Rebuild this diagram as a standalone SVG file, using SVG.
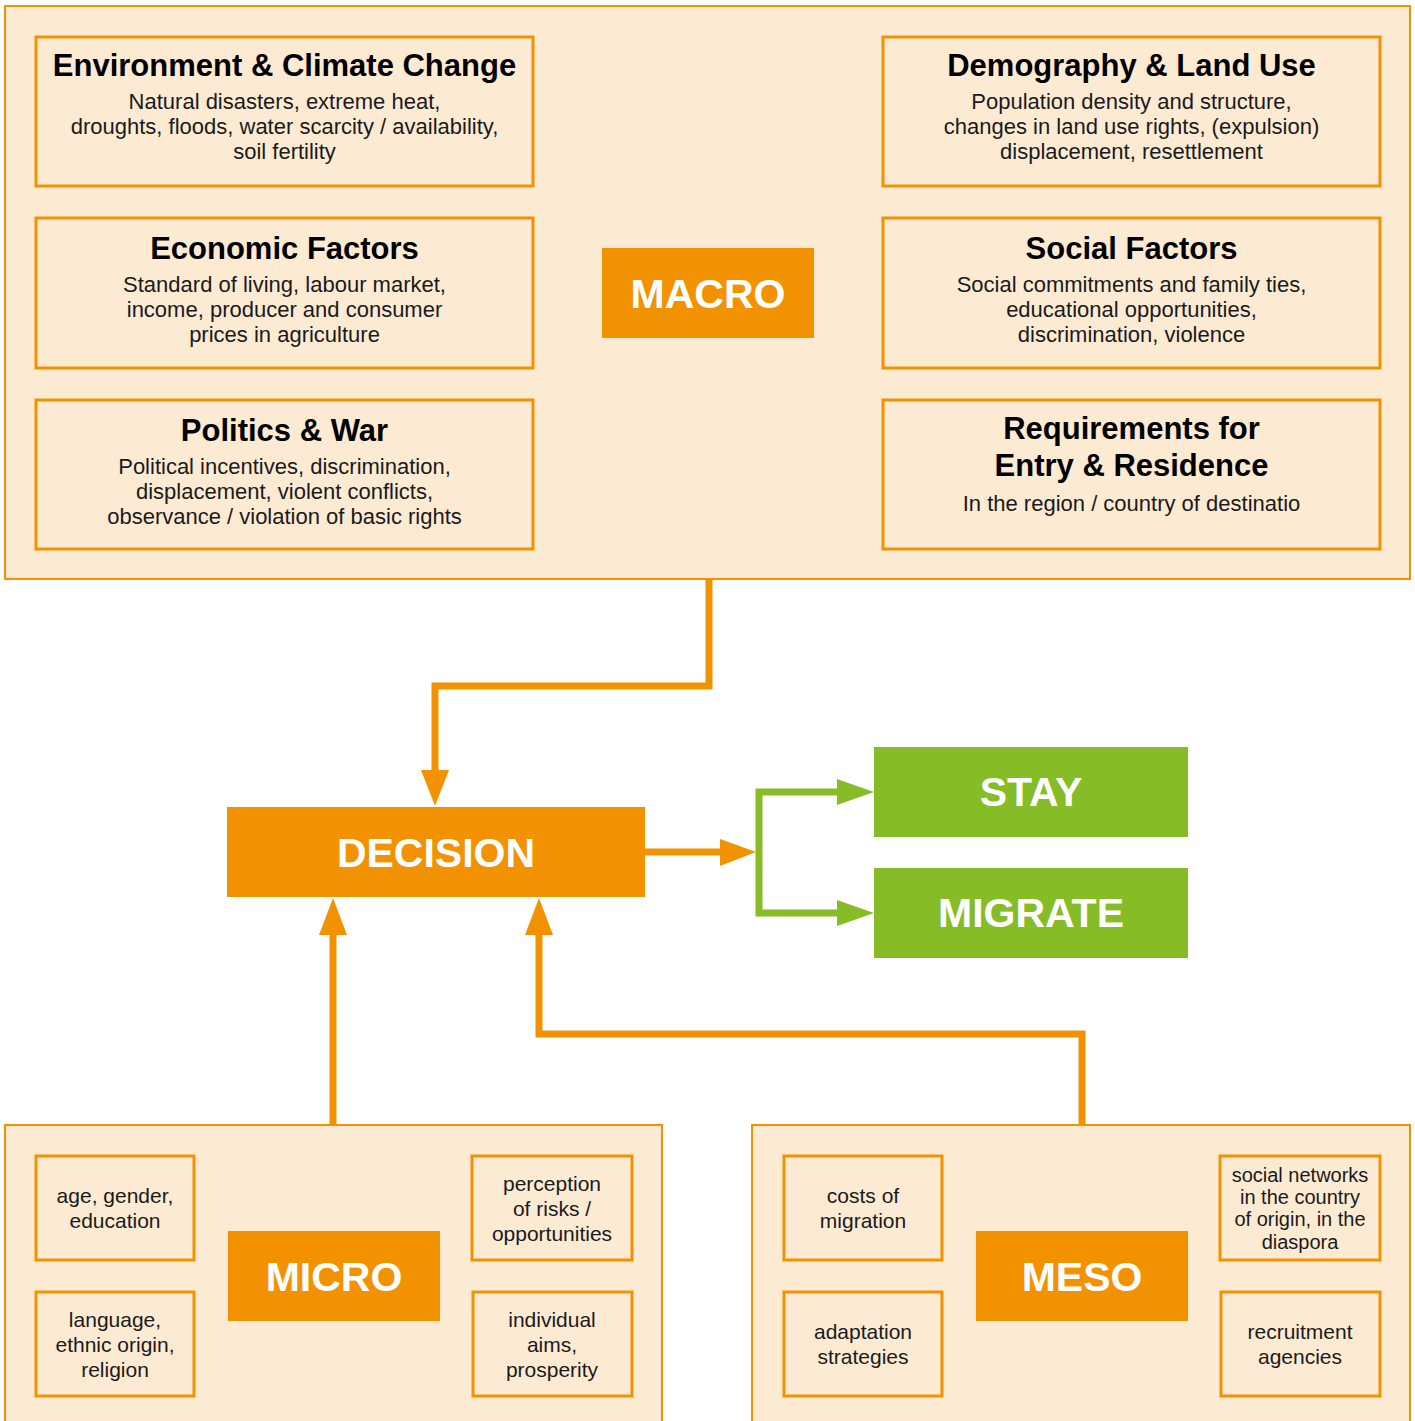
<svg xmlns="http://www.w3.org/2000/svg" width="1415" height="1421" viewBox="0 0 1415 1421">
<style>
.cont{fill:#FDEAD3;stroke:#F39200;stroke-width:2}
.box{fill:#FDEAD3;stroke:#F39200;stroke-width:3}
.key{fill:#F39200}
.grn{fill:#86BC25}
.t{font-family:"Liberation Sans",Arial,sans-serif;font-weight:bold;font-size:31px;fill:#000;text-anchor:middle}
.b{font-family:"Liberation Sans",Arial,sans-serif;font-size:22px;fill:#1a1a1a;text-anchor:middle}
.s{font-family:"Liberation Sans",Arial,sans-serif;font-size:21px;fill:#1a1a1a;text-anchor:middle}
.s2{font-family:"Liberation Sans",Arial,sans-serif;font-size:20px;fill:#1a1a1a;text-anchor:middle}
.w{font-family:"Liberation Sans",Arial,sans-serif;font-weight:bold;font-size:41px;fill:#fff;text-anchor:middle}
.lo{fill:none;stroke:#F39200;stroke-width:7;stroke-linejoin:miter}
.lg{fill:none;stroke:#86BC25;stroke-width:7;stroke-linejoin:miter}
</style>
<rect width="1415" height="1421" fill="#fff"/>
<g id="macro-container"><rect class="cont" x="5" y="6" width="1405" height="573"/></g>
<g id="micro-container"><rect class="cont" x="5" y="1125" width="657" height="300"/></g>
<g id="meso-container"><rect class="cont" x="752" y="1125" width="658" height="300"/></g>

<g id="connectors">
<path class="lo" d="M709 579 V686 H435 V775"/>
<polygon fill="#F39200" points="421,770 449,770 435,806"/>
<path class="lo" d="M645 852 H722"/>
<polygon fill="#F39200" points="720,839 720,866 756,852"/>
<path class="lg" d="M842 792 H759 V913 H842"/>
<polygon fill="#86BC25" points="837,779 837,805 874,792"/>
<polygon fill="#86BC25" points="837,900 837,926 874,913"/>
<path class="lo" d="M333 1125 V930"/>
<polygon fill="#F39200" points="319,935 347,935 333,898"/>
<path class="lo" d="M1082 1125 V1034 H539 V930"/>
<polygon fill="#F39200" points="525,935 553,935 539,898"/>
</g>

<g id="env">
<rect class="box" x="36" y="37" width="497" height="149"/>
<text class="t" x="284.5" y="76">Environment &amp; Climate Change</text>
<text class="b" x="284.5" y="109">Natural disasters, extreme heat,</text>
<text class="b" x="284.5" y="134">droughts, floods, water scarcity / availability,</text>
<text class="b" x="284.5" y="159">soil fertility</text>
</g>
<g id="econ">
<rect class="box" x="36" y="218" width="497" height="150"/>
<text class="t" x="284.5" y="259">Economic Factors</text>
<text class="b" x="284.5" y="292">Standard of living, labour market,</text>
<text class="b" x="284.5" y="317">income, producer and consumer</text>
<text class="b" x="284.5" y="342">prices in agriculture</text>
</g>
<g id="politics">
<rect class="box" x="36" y="400" width="497" height="149"/>
<text class="t" x="284.5" y="441">Politics &amp; War</text>
<text class="b" x="284.5" y="474">Political incentives, discrimination,</text>
<text class="b" x="284.5" y="499">displacement, violent conflicts,</text>
<text class="b" x="284.5" y="524">observance / violation of basic rights</text>
</g>
<g id="demo">
<rect class="box" x="883" y="37" width="497" height="149"/>
<text class="t" x="1131.5" y="76">Demography &amp; Land Use</text>
<text class="b" x="1131.5" y="109">Population density and structure,</text>
<text class="b" x="1131.5" y="134">changes in land use rights, (expulsion)</text>
<text class="b" x="1131.5" y="159">displacement, resettlement</text>
</g>
<g id="social">
<rect class="box" x="883" y="218" width="497" height="150"/>
<text class="t" x="1131.5" y="259">Social Factors</text>
<text class="b" x="1131.5" y="292">Social commitments and family ties,</text>
<text class="b" x="1131.5" y="317">educational opportunities,</text>
<text class="b" x="1131.5" y="342">discrimination, violence</text>
</g>
<g id="req">
<rect class="box" x="883" y="400" width="497" height="149"/>
<text class="t" x="1131.5" y="439">Requirements for</text>
<text class="t" x="1131.5" y="476">Entry &amp; Residence</text>
<text class="b" x="1131.5" y="511">In the region / country of destinatio</text>
</g>
<g id="macro"><rect class="key" x="602" y="248" width="212" height="90"/><text class="w" x="708" y="308">MACRO</text></g>
<g id="decision"><rect class="key" x="227" y="807" width="418" height="90"/><text class="w" x="436" y="867">DECISION</text></g>
<g id="stay"><rect class="grn" x="874" y="747" width="314" height="90"/><text class="w" x="1031" y="806">STAY</text></g>
<g id="migrate"><rect class="grn" x="874" y="868" width="314" height="90"/><text class="w" x="1031" y="927">MIGRATE</text></g>
<g id="micro"><rect class="key" x="228" y="1231" width="212" height="90"/><text class="w" x="334" y="1291">MICRO</text></g>
<g id="meso"><rect class="key" x="976" y="1231" width="212" height="90"/><text class="w" x="1082" y="1291">MESO</text></g>

<g id="age"><rect class="box" x="36" y="1156" width="158" height="104"/>
<text class="s" x="115" y="1203">age, gender,</text><text class="s" x="115" y="1228">education</text></g>
<g id="language"><rect class="box" x="36" y="1292" width="158" height="104"/>
<text class="s" x="115" y="1327">language,</text><text class="s" x="115" y="1352">ethnic origin,</text><text class="s" x="115" y="1377">religion</text></g>
<g id="perception"><rect class="box" x="472" y="1156" width="160" height="104"/>
<text class="s" x="552" y="1191">perception</text><text class="s" x="552" y="1216">of risks /</text><text class="s" x="552" y="1241">opportunities</text></g>
<g id="aims"><rect class="box" x="473" y="1292" width="159" height="104"/>
<text class="s" x="552" y="1327">individual</text><text class="s" x="552" y="1352">aims,</text><text class="s" x="552" y="1377">prosperity</text></g>
<g id="costs"><rect class="box" x="784" y="1156" width="158" height="104"/>
<text class="s" x="863" y="1203">costs of</text><text class="s" x="863" y="1228">migration</text></g>
<g id="adaptation"><rect class="box" x="784" y="1292" width="158" height="104"/>
<text class="s" x="863" y="1339">adaptation</text><text class="s" x="863" y="1364">strategies</text></g>
<g id="networks"><rect class="box" x="1220" y="1156" width="160" height="104"/>
<text class="s2" x="1300" y="1182">social networks</text><text class="s2" x="1300" y="1204">in the country</text><text class="s2" x="1300" y="1226">of origin, in the</text><text class="s2" x="1300" y="1249">diaspora</text></g>
<g id="recruitment"><rect class="box" x="1221" y="1292" width="159" height="104"/>
<text class="s" x="1300" y="1339">recruitment</text><text class="s" x="1300" y="1364">agencies</text></g>
</svg>
